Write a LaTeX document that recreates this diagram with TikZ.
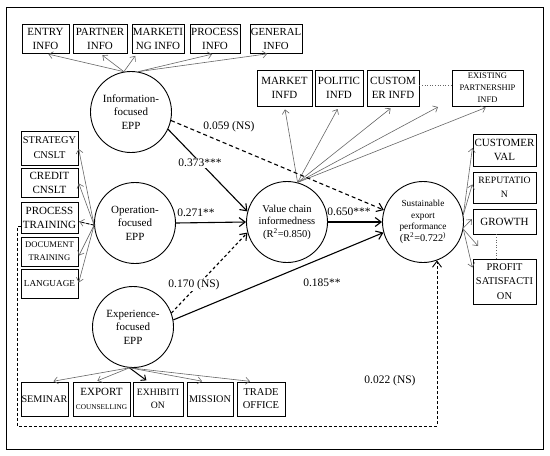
\documentclass[tikz,border=0pt]{standalone}
\usepackage{fontspec}
\setmainfont{Liberation Serif}
\usetikzlibrary{arrows.meta,calc}
\begin{document}
\begin{tikzpicture}[x=1pt,y=-1pt,
 box/.style={draw=black, line width=0.9pt, inner sep=0pt, align=center, font=\fontsize{11}{14}\selectfont},
 lv/.style={draw=black, circle, line width=0.9pt, minimum size=81pt, inner sep=0pt, align=center, font=\fontsize{11}{13.5}\selectfont},
 thinarr/.style={draw=black!60, line width=0.6pt, -{Straight Barb[length=4pt,width=7pt]}, shorten >=3pt},
 mainarr/.style={draw=black, line width=1.1pt, -{Straight Barb[length=6pt,width=9pt]}},
 dasharr/.style={mainarr, dash pattern=on 4pt off 3pt},
 dotline/.style={draw=black!60, line width=0.6pt, dotted},
 coef/.style={font=\fontsize{11.5}{13}\selectfont, inner sep=1pt},
]
\useasboundingbox (0,0) rectangle (550,456);
\draw[line width=0.9pt] (6,7) rectangle (543,449);

% latent variables
\node[lv] (info) at (131,112) {Information-\\focused\\EPP};
\node[lv] (op) at (135,223) {Operation-\\focused\\EPP};
\node[lv] (expe) at (133,327) {Experience-\\focused\\EPP};
\node[lv, font=\fontsize{10.5}{12.5}\selectfont] (vc) at (287,222) {Value chain\\informedness\\(R\textsuperscript{2}=0.850)};
\node[lv, font=\fontsize{9.3}{11.5}\selectfont] (sp) at (423,222) {Sustainable\\export\\performance\\{\fontsize{10.3}{12}\selectfont(R\textsuperscript{2}=0.722\textsuperscript{)}}};

% top row
\node[box, minimum width=47pt, minimum height=29pt] (entry) at (45.5,38.5) {ENTRY\\INFO};
\node[box, minimum width=54pt, minimum height=29pt] (partner) at (100,38.5) {PARTNER\\INFO};
\node[box, minimum width=52pt, minimum height=29pt] (mkt) at (158,38.5) {MARKETI\\NG INFO};
\node[box, minimum width=50pt, minimum height=29pt] (pinfo) at (215,38.5) {PROCESS\\INFO};
\node[box, minimum width=52pt, minimum height=29pt, font=\fontsize{10.8}{14}\selectfont] (ginfo) at (276,38.5) {GENERAL\\INFO};

% upper right row
\node[box, minimum width=55pt, minimum height=36pt] (market) at (284.5,88) {MARKET\\INFD};
\node[box, minimum width=48pt, minimum height=36pt] (politic) at (339,88) {POLITIC\\INFD};
\node[box, minimum width=52pt, minimum height=36pt] (cinfd) at (393,88) {CUSTOM\\ER INFD};
\node[box, minimum width=71pt, minimum height=36pt, font=\fontsize{8.5}{12}\selectfont] (exist) at (487.5,88) {EXISTING\\PARTNERSHIP\\INFD};

% right column
\node[box, minimum width=63pt, minimum height=32pt] (cval) at (504.5,150) {CUSTOMER\\VAL};
\node[box, minimum width=63pt, minimum height=31pt, font=\fontsize{9.7}{14}\selectfont] (rep) at (504.5,187.5) {REPUTATIO\\N};
\node[box, minimum width=63pt, minimum height=25pt] (growth) at (504.5,221.5) {GROWTH};
\node[box, minimum width=63pt, minimum height=45pt, font=\fontsize{10.4}{14.5}\selectfont] (profit) at (504.5,281.5) {PROFIT\\SATISFACTI\\ON};

% left column
\node[box, minimum width=57pt, minimum height=34pt, font=\fontsize{10.4}{15}\selectfont] (strat) at (49.5,148) {STRATEGY\\CNSLT};
\node[box, minimum width=57pt, minimum height=29pt] (credit) at (49.5,182.5) {CREDIT\\CNSLT};
\node[box, minimum width=57pt, minimum height=31pt] (proc) at (49.5,217.5) {PROCESS\\TRAINING};
\node[box, minimum width=57pt, minimum height=29pt, font=\fontsize{8.6}{13}\selectfont] (doc) at (49.5,251.5) {DOCUMENT\\TRAINING};
\node[box, minimum width=57pt, minimum height=29pt, font=\fontsize{9.2}{13}\selectfont] (lang) at (49.5,283.5) {LANGUAGE};

% bottom row
\node[box, minimum width=47pt, minimum height=34pt, font=\fontsize{10.2}{13}\selectfont] (sem) at (44.5,399) {SEMINAR};
\node[box, minimum width=57pt, minimum height=34pt] (expc) at (101.5,399) {EXPORT\\{\fontsize{7.3}{13}\selectfont COUNSELLING}};
\node[box, minimum width=50pt, minimum height=34pt, font=\fontsize{9.7}{13}\selectfont] (exh) at (158,399) {EXHIBITI\\ON};
\node[box, minimum width=46pt, minimum height=34pt, font=\fontsize{10.2}{13}\selectfont] (mis) at (210,399) {MISSION};
\node[box, minimum width=48pt, minimum height=34pt, font=\fontsize{10.5}{13}\selectfont] (trade) at (261,399) {TRADE\\OFFICE};

% free ends
\coordinate (gapT) at (438,107);
\coordinate (gapR) at (478,246);

% indicator arrows: information
\draw[thinarr] (info.100) -- (entry.south);
\draw[thinarr] (info.100) -- (partner.south);
\draw[thinarr] (info.100) -- ([xshift=-21pt]mkt.south);
\draw[thinarr] (info.80) -- (pinfo.south);
\draw[thinarr] (info.80) -- ([xshift=-6pt]ginfo.south);

% indicator arrows: value chain
\draw[thinarr] (vc.75) -- (market.south);
\draw[thinarr] (vc.75) -- (politic.south);
\draw[thinarr] (vc.75) -- (cinfd.south);
\draw[thinarr, shorten >=0pt] (vc.75) -- (gapT);
\draw[thinarr] (vc.75) -- ([xshift=1pt]exist.south);
\draw[dotline] ([yshift=3pt]cinfd.east) -- ([yshift=3pt]exist.west);

% indicator arrows: sustainable performance
\draw[thinarr, shorten >=1pt] (sp.10) -- ([yshift=3pt]cval.west);
\draw[thinarr, shorten >=1pt] (sp.10) -- ([yshift=4pt]rep.west);
\draw[thinarr, shorten >=1pt] (sp.-8) -- ([yshift=3pt]growth.west);
\draw[thinarr, shorten >=0pt] (sp.-10) -- (gapR);
\draw[thinarr, shorten >=1pt] (sp.-10) -- ([yshift=13pt]profit.west);
\draw[dotline] ([xshift=-8.5pt]growth.south) -- ([xshift=-8.5pt]profit.north);

% indicator arrows: operation
\draw[thinarr, shorten >=1pt] (op.183) -- (strat.east);
\draw[thinarr, shorten >=1pt] (op.183) -- (credit.east);
\draw[thinarr, shorten >=1pt] (op.183) -- ([yshift=-4pt]proc.east);
\draw[thinarr, shorten >=1pt] (op.183) -- ([yshift=-5pt]doc.east);
\draw[thinarr, shorten >=1pt] (op.183) -- (lang.east);

% indicator arrows: experience
\draw[thinarr, shorten >=2pt] (expe.265) -- ([xshift=7pt]sem.north);
\draw[thinarr, shorten >=2pt] (expe.265) -- ([xshift=-6pt]expc.north);
\draw[thinarr, shorten >=2pt, draw=black, line width=1pt] (expe.265) -- ([xshift=-10pt]exh.north);
\draw[thinarr, shorten >=2pt] (expe.265) -- ([xshift=-6pt]mis.north);
\draw[thinarr, shorten >=2pt] (expe.265) -- ([xshift=-9pt]trade.north);

% structural paths
\draw[mainarr] (info.-25) -- (vc.165);
\draw[dasharr] (info.-12) -- (sp.163);
\draw[mainarr] (op.east) -- (vc.west);
\draw[mainarr, dash pattern=on 3pt off 2.5pt] (expe.20) -- (vc.195);
\draw[mainarr] (expe.10) -- (sp.195);
\draw[mainarr] (vc.east) -- (sp.west);

% dashed direct path from operation
\draw[line width=0.8pt, dash pattern=on 3pt off 2pt] (op.183) -- ([yshift=-4pt]proc.east);
\coordinate (c1) at (17,226.5);
\coordinate (c2) at (17,426);
\coordinate (c3) at (sp.-70 |- c2);
\draw[mainarr, line width=0.9pt, dash pattern=on 3pt off 2pt] ([yshift=-9pt]proc.west) -- (c1) -- (c2) -- (c3) -- (sp.-70);

% coefficients
\node[coef, fill=white] (l373) at (200,163) {0.373***};
\node[coef] (l059) at (229,127) {0.059 (NS)};
\node[coef] (l271) at (196,213) {0.271**};
\node[coef, fill=white] (l170) at (194,285) {0.170 (NS)};
\node[coef] (l185) at (322,283) {0.185**};
\node[coef] (l650) at (349,212) {0.650***};
\node[coef] (l022) at (390,381) {0.022 (NS)};
\end{tikzpicture}
\end{document}
